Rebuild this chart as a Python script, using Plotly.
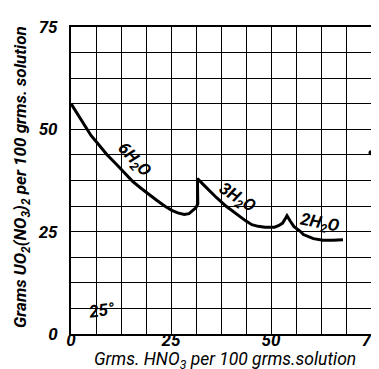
import plotly.graph_objects as go

# Solubility curve: UO2(NO3)2 vs HNO3 at 25 deg
hno3 = [0, 1.5, 3.3, 5, 6.9, 9, 11.4, 13.5, 15.4, 17.5, 19.4, 21.5, 23.5, 25.2, 26.7, 28.3, 29.5, 30.3, 31.2, 31.7, 31.7, 31.6,
        33.1, 34.7, 36.4, 38.8, 40.4, 42.0, 43.6, 45.2, 46.8, 48.5, 50.9, 52.0, 52.9, 53.6, 54.0,
        54.8, 55.7, 57.3, 58.1, 60.6, 63.0, 65.5, 68.0]
uo2 = [56.3, 54.0, 51.2, 48.5, 46.3, 43.8, 41.4, 39.2, 37.3, 35.6, 34.1, 32.6, 31.2, 30.2, 29.6, 29.2, 29.4, 30.0, 30.8, 31.8, 35.0, 38.0,
       36.5, 34.9, 33.3, 31.2, 30.0, 28.8, 27.7, 26.7, 26.3, 26.1, 26.1, 26.5, 27.1, 28.2, 28.9,
       27.6, 26.3, 25.1, 24.3, 23.3, 22.9, 22.9, 23.0]

extra_x = [75]
extra_y = [44.3]

tick_vals = [0, 25, 50, 75]
tick_text = ["<i>0</i>", "<i>25</i>", "<i>50</i>", "<i>75</i>"]

labels = ["<i>6H<sub>2</sub>O</i>", "<i>3H<sub>2</sub>O</i>", "<i>2H<sub>2</sub>O</i>", "<i>25°</i>"]
label_x = [15.8, 41.6, 62.2, 7.7]
label_y = [42.4, 33.0, 27.0, 5.9]
label_angle = [47, 33, 11, -8]

FONT = "Roboto, 'Open Sans', sans-serif"

fig = go.Figure()
fig.add_trace(go.Scatter(x=hno3, y=uo2, mode="lines",
                         line=dict(color="black", width=3), showlegend=False))
fig.add_trace(go.Scatter(x=extra_x, y=extra_y, mode="markers",
                         marker=dict(color="black", size=5), showlegend=False, cliponaxis=False))

for t, x, y, a in zip(labels, label_x, label_y, label_angle):
    fig.add_annotation(x=x, y=y, text=t, textangle=a, showarrow=False,
                       font=dict(family=FONT, size=17, color="black", style="italic", weight="bold"))

axis_common = dict(range=[0, 75], tickvals=tick_vals, ticktext=tick_text,
                   showgrid=True, gridcolor="black", gridwidth=1.2,
                   minor=dict(dtick=6.25, showgrid=True, gridcolor="black", gridwidth=1.2),
                   showline=True, linecolor="black", linewidth=2, mirror=True,
                   zeroline=False, ticks="", ticklen=0, ticklabeloverflow="allow",
                   tickfont=dict(family=FONT, size=17, color="black", style="italic", weight="bold"))

fig.update_xaxes(**axis_common, ticklabelstandoff=-10)
fig.update_yaxes(**axis_common, ticklabelstandoff=8)

fig.add_annotation(x=0.513, y=-0.086, xref="paper", yref="paper", yanchor="middle",
                   text="<i>Grms. HNO<sub>3</sub> per 100 grms.solution</i>", showarrow=False,
                   font=dict(family=FONT, size=17.5, color="black", style="italic"))
fig.add_annotation(x=-0.165, y=0.51, xref="paper", yref="paper", xanchor="center",
                   text="<i>Grams UO<sub>2</sub>(NO<sub>3</sub>)<sub>2</sub> per 100 grms. solution</i>",
                   textangle=-90, showarrow=False,
                   font=dict(family=FONT, size=17, color="black", style="italic", weight="bold"))

fig.update_layout(width=379, height=369, margin=dict(l=63, r=6, t=19, b=43),
                  paper_bgcolor="white", plot_bgcolor="white")

fig.write_html("out.html")
